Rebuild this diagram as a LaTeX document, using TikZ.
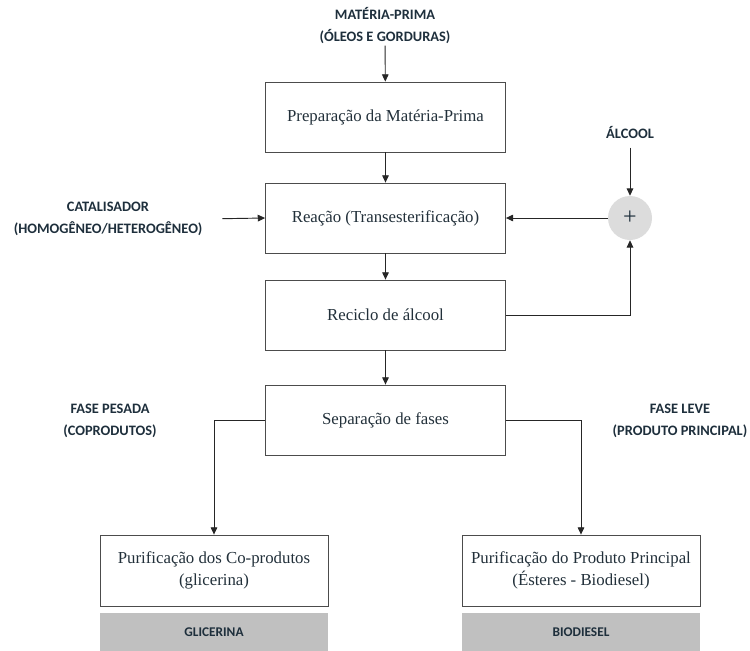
\documentclass[tikz,border=0pt]{standalone}
\usepackage{fontspec}
\setmainfont{Liberation Serif}
\newfontfamily\labfont{Carlito}
\usetikzlibrary{arrows.meta}
\definecolor{labc}{HTML}{1E2F3C}
\definecolor{boxtxt}{HTML}{22303A}
\definecolor{grayfill}{HTML}{C0C0C0}
\definecolor{plusfill}{HTML}{DCDCDC}
\begin{document}
\begin{tikzpicture}[x=0.75pt,y=-0.75pt,
  stepbox/.style={draw=black!70,line width=0.6pt,fill=white,minimum width=180pt,minimum height=52.5pt,text=boxtxt,font=\fontsize{12.6}{17}\selectfont,align=center,inner sep=0pt},
  purbox/.style={draw=black!70,line width=0.6pt,fill=white,minimum height=53.25pt,text=boxtxt,font=\fontsize{12.6}{17}\selectfont,align=center,inner sep=0pt},
  prodbox/.style={fill=grayfill,minimum height=28.5pt,text=labc,font=\labfont\bfseries\fontsize{10}{12}\selectfont,inner sep=0pt},
  lab/.style={text=labc,font=\labfont\bfseries\fontsize{10.8}{16.5}\selectfont,align=center,inner sep=1pt},
  arr/.style={draw=black!85,line width=0.7pt,-{Triangle[length=5.5pt,width=5pt]}},
  ln/.style={draw=black!85,line width=0.7pt}
]
\useasboundingbox (0,0) rectangle (750,650);
\node[lab] (mp) at (385,26) {MATÉRIA-PRIMA\\(ÓLEOS E GORDURAS)};
\node[stepbox] (b1) at (385.5,117) {Preparação da Matéria-Prima};
\node[stepbox] (b2) at (385.5,218) {Reação (Transesterificação)};
\node[stepbox] (b3) at (385.5,315) {Reciclo de álcool};
\node[stepbox] (b4) at (385.5,420) {Separação de fases};
\node[purbox,minimum width=171pt] (lp) at (214,570.5) {Purificação dos Co-produtos\\(glicerina)};
\node[purbox,minimum width=178.5pt] (rp) at (581,570.5) {Purificação do Produto Principal\\(Ésteres - Biodiesel)};
\node[prodbox,minimum width=171pt] (lg) at (214,632) {GLICERINA};
\node[prodbox,minimum width=178.5pt] (rg) at (581,632) {BIODIESEL};
\node[lab] (cat) at (108,219) {CATALISADOR\\(HOMOGÊNEO/HETEROGÊNEO)};
\node[lab] (alc) at (630,132) {ÁLCOOL};
\node[circle,fill=plusfill,minimum size=33pt,inner sep=0pt,text=labc,font=\fontsize{18}{18}\selectfont] (plus) at (630,218) {+};
\node[lab] (fp) at (110,421) {FASE PESADA\\(COPRODUTOS)};
\node[lab] (fl) at (680,421) {FASE LEVE\\(PRODUTO PRINCIPAL)};
\draw[arr] (mp) -- (b1);
\draw[arr] (b1) -- (b2);
\draw[arr] (b2) -- (b3);
\draw[arr] (b3) -- (b4);
\draw[arr,shorten <=14pt] (cat.east) -- (b2.west);
\draw[arr,shorten <=6pt] (alc.south) -- (plus.north);
\draw[arr] (plus.west) -- (b2.east);
\draw[arr] (b3.east) -| (plus.south);
\draw[arr] (b4.west) -| (lp.north);
\draw[arr] (b4.east) -| (rp.north);
\end{tikzpicture}
\end{document}
